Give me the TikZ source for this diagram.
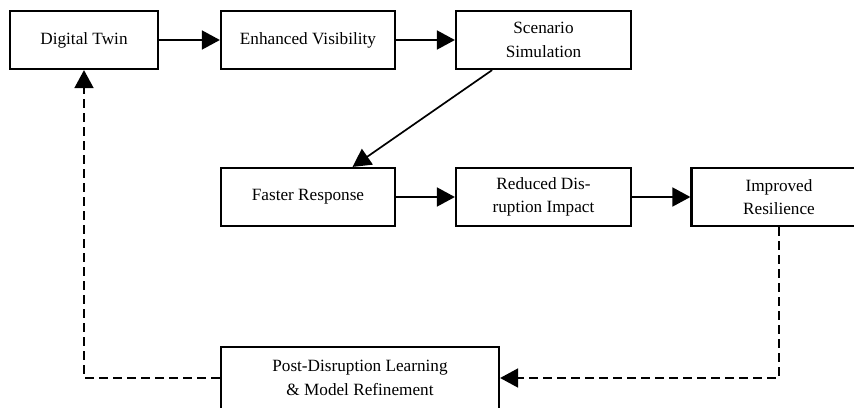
\documentclass[tikz,border=0pt]{standalone}
\usepackage{fontspec}
\setmainfont{Liberation Serif}
\usetikzlibrary{arrows.meta,calc}
\begin{document}
\begin{tikzpicture}[x=1pt,y=-1pt,
  box/.style={draw=black, line width=2.2pt, fill=white, minimum width=174pt, minimum height=58pt,
    inner sep=2pt, align=center, font=\fontsize{17.2pt}{23.5pt}\selectfont},
  arr/.style={line width=1.7pt, -{Triangle[length=18pt,width=19pt]}},
  darr/.style={line width=1.7pt, dash pattern=on 8.5pt off 5.5pt, -{Triangle[length=18pt,width=19pt]}}]
\useasboundingbox (0,0) rectangle (854,407);
\clip (0,0) rectangle (854,407);
\fill[white] (0,0) rectangle (854,407);
\node[box, minimum width=148pt] (dt) at (84,40) {Digital Twin};
\node[box] (ev) at (308,40) {Enhanced Visibility};
\node[box, minimum width=175pt] (ss) at (543.5,40) {Scenario\\Simulation};
\node[box] (fr) at (308,197) {Faster Response};
\node[box, minimum width=175pt] (rd) at (543.5,197) {Reduced Dis-\\ruption Impact};
\node[box, minimum width=175pt] (ir) at (779,197) {Improved\\Resilience};
\node[box, minimum width=278pt, minimum height=62pt] (pd) at (360,378) {Post-Disruption Learning\\\& Model Refinement};
\draw[arr] (dt) -- (ev);
\draw[arr] (ev) -- (ss);
\draw[arr] ($(ss.south west)!0.21!(ss.south east)$) -- ($(fr.north west)!0.753!(fr.north east)$);
\draw[arr] (fr) -- (rd);
\draw[arr] (rd) -- (ir);
\draw[darr] (ir.south) |- (pd.east);
\draw[darr] (pd.west) -| (dt.south);
\end{tikzpicture}
\end{document}
